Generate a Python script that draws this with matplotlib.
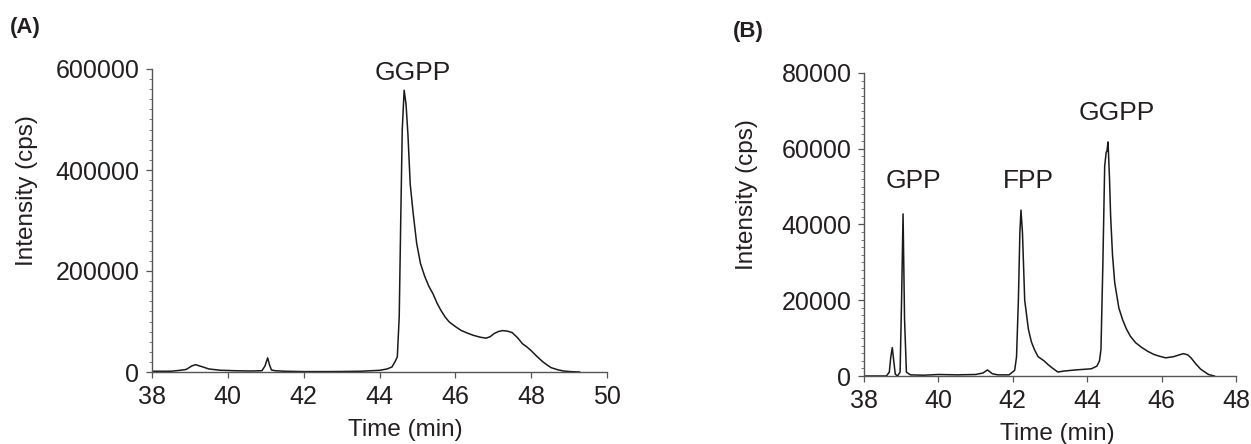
import matplotlib
matplotlib.use("Agg")
import matplotlib.pyplot as plt
from matplotlib.ticker import MultipleLocator

plt.rcParams['font.family'] = ['Liberation Sans', 'DejaVu Sans']

# panel A: GGPP chromatogram
time_a = [38.0, 38.5, 38.7, 38.9, 39.05, 39.15, 39.3, 39.5, 39.8, 40.2, 40.6, 40.9,
          40.98, 41.05, 41.1, 41.15, 41.25, 41.5, 42.0, 42.5, 43.0, 43.5, 44.0, 44.2,
          44.33, 44.42, 44.47, 44.52, 44.56, 44.6, 44.65, 44.7, 44.75, 44.81, 44.89,
          44.98, 45.08, 45.19, 45.3, 45.41, 45.52, 45.62, 45.73, 45.84, 46.0, 46.16,
          46.32, 46.48, 46.65, 46.81, 46.92, 47.02, 47.13, 47.24, 47.37, 47.5, 47.64,
          47.77, 47.88, 47.99, 48.15, 48.31, 48.42, 48.53, 48.7, 48.85, 49.05, 49.28]
int_a = [1500, 1500, 3000, 5000, 12000, 14500, 11000, 6000, 3500, 2500, 2000, 2500,
         12000, 28000, 14000, 4000, 2500, 1500, 800, 800, 1000, 1500, 3300, 6000,
         10000, 22000, 30000, 109000, 300000, 480000, 558000, 530000, 470000, 372000, 313000,
         255000, 215000, 190000, 170000, 155000, 136000, 122000, 109000, 99000, 90000, 82000,
         77000, 72500, 69000, 67000, 70000, 76000, 80000, 82000, 81000, 78000, 68000,
         56000, 50000, 43000, 31000, 20000, 14000, 8500, 4500, 2000, 700, 0]

# panel B: GPP / FPP / GGPP chromatogram
time_b = [38.0, 38.6, 38.68, 38.72, 38.76, 38.8, 38.84, 38.9, 38.97, 39.01, 39.05, 39.09,
          39.14, 39.25, 39.6, 40.0, 40.5, 41.0, 41.2, 41.32, 41.45, 41.6, 41.9, 42.05,
          42.1, 42.15, 42.19, 42.22, 42.26, 42.32, 42.42, 42.5, 42.58, 42.68, 42.84,
          42.95, 43.05, 43.21, 43.37, 43.68, 44.11, 44.26, 44.33, 44.37, 44.42, 44.47,
          44.51, 44.53, 44.56, 44.6, 44.63, 44.68, 44.74, 44.85, 44.95, 45.05, 45.16,
          45.3, 45.47, 45.63, 45.79, 45.95, 46.11, 46.32, 46.45, 46.58, 46.7, 46.79,
          46.92, 47.05, 47.26, 47.42]
int_b = [0, 0, 1000, 5000, 7500, 4000, 500, 0, 1000, 20000, 42800, 15000,
         1000, 300, 200, 400, 300, 400, 800, 1600, 600, 300, 300, 1500,
         5000, 20000, 37800, 43800, 37800, 20000, 12300, 9000, 7000, 5100, 4000,
         3000, 2200, 1050, 1300, 1600, 1900, 2600, 4000, 7000, 29000, 55400,
         59100, 59300, 61800, 52000, 42200, 32000, 24600, 18000, 14900, 12500, 10500,
         8800, 7500, 6500, 5700, 5200, 4800, 5100, 5500, 5900, 5600, 4800,
         3200, 1800, 400, 0]

labels_b = ["GPP", "FPP", "GGPP"]
label_x_b = [39.32, 42.42, 44.79]
label_y_b = [51500, 51500, 69500]

ink = '#231f20'

fig = plt.figure(figsize=(12.51, 4.44), dpi=100)
ax1 = fig.add_axes([152 / 1251, 1 - 372 / 444, 455 / 1251, 303 / 444])
ax2 = fig.add_axes([864 / 1251, 1 - 376 / 444, 372 / 1251, 303 / 444])


def style(ax, xmax, ymax, ymajor, yminor, xlab_pos):
    ax.set_xlim(38, xmax)
    ax.set_ylim(0, ymax)
    ax.set_xticks(range(38, xmax + 1, 2))
    ax.yaxis.set_major_locator(MultipleLocator(ymajor))
    ax.yaxis.set_minor_locator(MultipleLocator(yminor))
    for s in ['top', 'right']:
        ax.spines[s].set_visible(False)
    for s in ['left', 'bottom']:
        ax.spines[s].set_color('#555555')
        ax.spines[s].set_linewidth(1.0)
    ax.tick_params(axis='both', which='major', labelsize=18, colors='#555555',
                   labelcolor=ink, length=4, width=0.9, pad=5)
    ax.tick_params(axis='y', which='minor', length=2.2, width=0.7, colors='#777777')
    ax.set_xlabel("Time (min)", fontsize=17.5, color=ink)
    ax.set_ylabel("Intensity (cps)", fontsize=17.5, color=ink)
    ax.xaxis.set_label_coords(xlab_pos, -0.155)
    ax.patch.set_alpha(0)


ax1.plot(time_a, int_a, color='#1a1a1a', lw=1.1)
style(ax1, 50, 600000, 200000, 20000, 0.556)
ax1.yaxis.set_label_coords(-0.25, 0.6)
ax1.text(44.87, 593000, "GGPP", fontsize=19, color=ink, ha='center', va='center')

ax2.plot(time_b, int_b, color='#1a1a1a', lw=1.1)
style(ax2, 48, 80000, 20000, 2000, 0.52)
ax2.yaxis.set_label_coords(-0.285, 0.6)
for lab, x, y in zip(labels_b, label_x_b, label_y_b):
    ax2.text(x, y, lab, fontsize=19, color=ink, ha='center', va='center')

fig.text(10 / 1251, 1 - 28 / 444, "(A)", fontsize=16, fontweight='bold', color=ink,
         ha='left', va='center')
fig.text(733 / 1251, 1 - 31 / 444, "(B)", fontsize=16, fontweight='bold', color=ink,
         ha='left', va='center')

fig.savefig("out.png", dpi=100)
